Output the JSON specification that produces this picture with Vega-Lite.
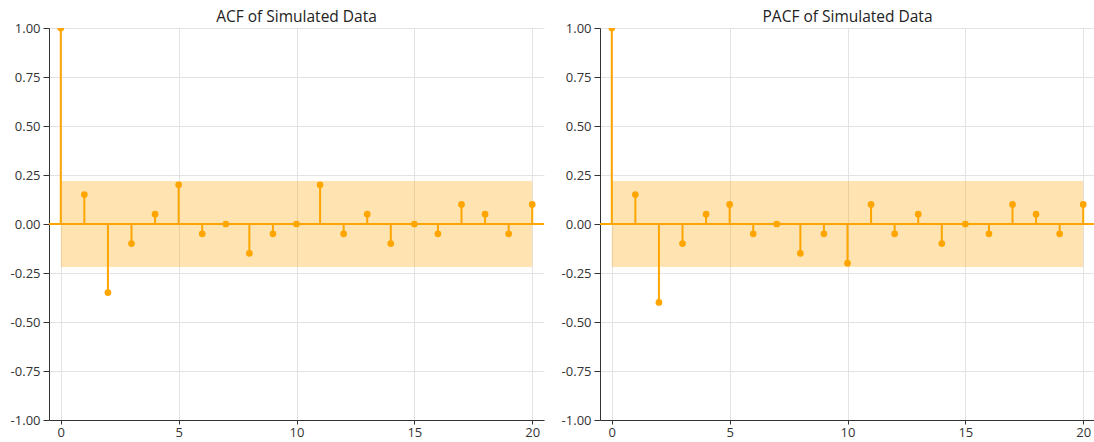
{
  "$schema": "https://vega.github.io/schema/vega-lite/v6.json",
  "padding": {"left": 10, "top": 9, "right": 0, "bottom": 0},
  "spacing": 16,
  "datasets": {
    "acf": [
      {"lag": 0, "value": 1.0}, {"lag": 1, "value": 0.15}, {"lag": 2, "value": -0.35},
      {"lag": 3, "value": -0.10}, {"lag": 4, "value": 0.05}, {"lag": 5, "value": 0.20},
      {"lag": 6, "value": -0.05}, {"lag": 7, "value": 0.0}, {"lag": 8, "value": -0.15},
      {"lag": 9, "value": -0.05}, {"lag": 10, "value": 0.0}, {"lag": 11, "value": 0.20},
      {"lag": 12, "value": -0.05}, {"lag": 13, "value": 0.05}, {"lag": 14, "value": -0.10},
      {"lag": 15, "value": 0.0}, {"lag": 16, "value": -0.05}, {"lag": 17, "value": 0.10},
      {"lag": 18, "value": 0.05}, {"lag": 19, "value": -0.05}, {"lag": 20, "value": 0.10}
    ],
    "pacf": [
      {"lag": 0, "value": 1.0}, {"lag": 1, "value": 0.15}, {"lag": 2, "value": -0.40},
      {"lag": 3, "value": -0.10}, {"lag": 4, "value": 0.05}, {"lag": 5, "value": 0.10},
      {"lag": 6, "value": -0.05}, {"lag": 7, "value": 0.0}, {"lag": 8, "value": -0.15},
      {"lag": 9, "value": -0.05}, {"lag": 10, "value": -0.20}, {"lag": 11, "value": 0.10},
      {"lag": 12, "value": -0.05}, {"lag": 13, "value": 0.05}, {"lag": 14, "value": -0.10},
      {"lag": 15, "value": 0.0}, {"lag": 16, "value": -0.05}, {"lag": 17, "value": 0.10},
      {"lag": 18, "value": 0.05}, {"lag": 19, "value": -0.05}, {"lag": 20, "value": 0.10}
    ],
    "band": [
      {"lag_start": 0, "lag_end": 20, "lo": -0.22, "hi": 0.22}
    ]
  },
  "config": {
    "font": "Open Sans",
    "view": {"stroke": null},
    "title": {"fontSize": 15.5, "fontWeight": "normal", "color": "#222", "font": "Open Sans", "offset": -3},
    "axis": {
      "labelFont": "Open Sans", "labelFontSize": 13, "labelColor": "#333",
      "domainColor": "#333", "tickColor": "#333", "gridColor": "#e3e3e3"
    }
  },
  "hconcat": [
    {
      "title": "ACF of Simulated Data",
      "width": 495, "height": 392,
      "layer": [
        {
          "data": {"name": "band"},
          "mark": {"type": "rect", "color": "#FFA500", "opacity": 0.3},
          "encoding": {
            "x": {"field": "lag_start", "type": "quantitative", "title": null, "scale": {"domain": [-0.5, 20.5], "nice": false, "zero": false}, "axis": {"values": [0, 5, 10, 15, 20], "tickSize": 4, "labelPadding": 2}},
            "x2": {"field": "lag_end"},
            "y": {"field": "lo", "type": "quantitative", "title": null, "scale": {"domain": [-1, 1], "nice": false}, "axis": {"values": [-1, -0.75, -0.5, -0.25, 0, 0.25, 0.5, 0.75, 1], "labelExpr": "replace(format(datum.value, '.2f'), '\u2212', '-')", "tickSize": 6, "labelPadding": 3}},
            "y2": {"field": "hi"}
          }
        },
        {
          "data": {"name": "acf"},
          "mark": {"type": "rule", "color": "#FFA500", "strokeWidth": 2},
          "encoding": {"y": {"datum": 0, "type": "quantitative"}}
        },
        {
          "data": {"name": "acf"},
          "mark": {"type": "rule", "color": "#FFA500", "strokeWidth": 2},
          "encoding": {
            "x": {"field": "lag", "type": "quantitative"},
            "y": {"field": "value", "type": "quantitative"},
            "y2": {"datum": 0}
          }
        },
        {
          "data": {"name": "acf"},
          "mark": {"type": "circle", "color": "#FFA500", "opacity": 1, "size": 45, "clip": true},
          "encoding": {
            "x": {"field": "lag", "type": "quantitative"},
            "y": {"field": "value", "type": "quantitative"}
          }
        }
      ]
    },
    {
      "title": "PACF of Simulated Data",
      "width": 495, "height": 392,
      "layer": [
        {
          "data": {"name": "band"},
          "mark": {"type": "rect", "color": "#FFA500", "opacity": 0.3},
          "encoding": {
            "x": {"field": "lag_start", "type": "quantitative", "title": null, "scale": {"domain": [-0.5, 20.5], "nice": false, "zero": false}, "axis": {"values": [0, 5, 10, 15, 20], "tickSize": 4, "labelPadding": 2}},
            "x2": {"field": "lag_end"},
            "y": {"field": "lo", "type": "quantitative", "title": null, "scale": {"domain": [-1, 1], "nice": false}, "axis": {"values": [-1, -0.75, -0.5, -0.25, 0, 0.25, 0.5, 0.75, 1], "labelExpr": "replace(format(datum.value, '.2f'), '\u2212', '-')", "tickSize": 6, "labelPadding": 3}},
            "y2": {"field": "hi"}
          }
        },
        {
          "data": {"name": "pacf"},
          "mark": {"type": "rule", "color": "#FFA500", "strokeWidth": 2},
          "encoding": {"y": {"datum": 0, "type": "quantitative"}}
        },
        {
          "data": {"name": "pacf"},
          "mark": {"type": "rule", "color": "#FFA500", "strokeWidth": 2},
          "encoding": {
            "x": {"field": "lag", "type": "quantitative"},
            "y": {"field": "value", "type": "quantitative"},
            "y2": {"datum": 0}
          }
        },
        {
          "data": {"name": "pacf"},
          "mark": {"type": "circle", "color": "#FFA500", "opacity": 1, "size": 45, "clip": true},
          "encoding": {
            "x": {"field": "lag", "type": "quantitative"},
            "y": {"field": "value", "type": "quantitative"}
          }
        }
      ]
    }
  ]
}
